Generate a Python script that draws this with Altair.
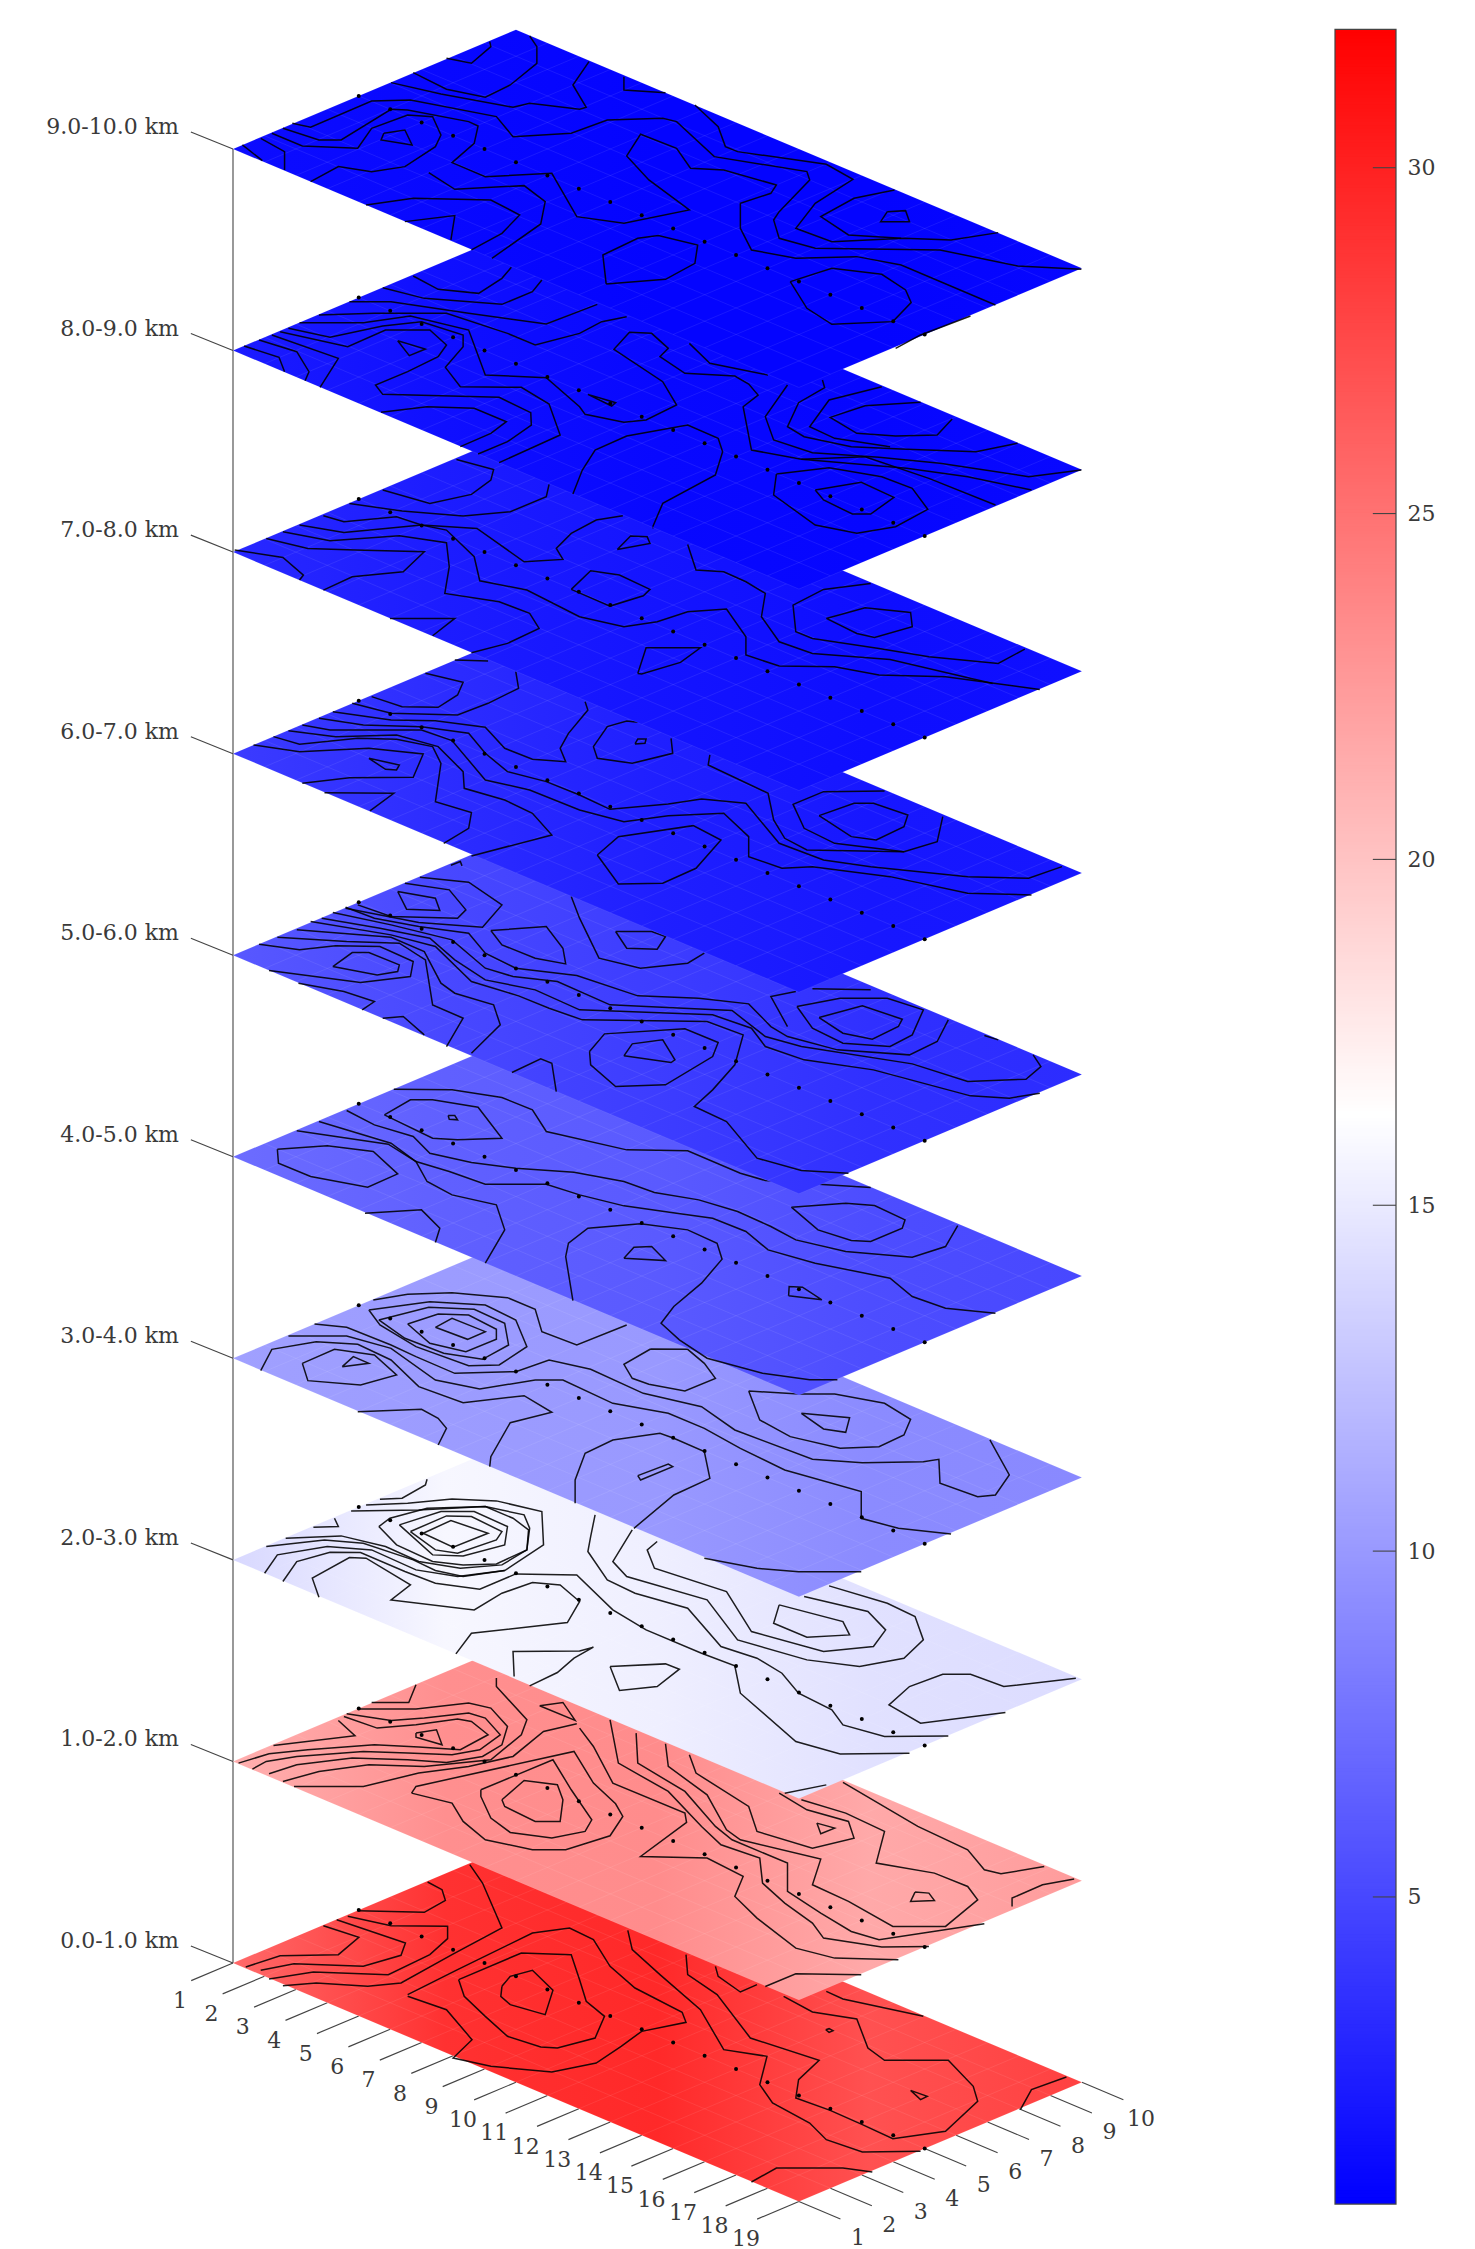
import altair as alt
import pandas as pd

alt.data_transformers.disable_max_rows()

LEVEL_LABELS = ["0.0-1.0 km", "1.0-2.0 km", "2.0-3.0 km", "3.0-4.0 km", "4.0-5.0 km",
                "5.0-6.0 km", "6.0-7.0 km", "7.0-8.0 km", "8.0-9.0 km", "9.0-10.0 km"]
I_TICKS = list(range(1, 20))
J_TICKS = list(range(1, 11))
STATION_ROW = 5
BAR_TICKS = [5, 10, 15, 20, 25, 30]
VMIN, VMAX = 0.56, 32.0

# estimated field level across each layer (left corner -> right corner)
LAYER_VALUES = [
    [25.5, 29.0, 29.5, 27.0, 28.0],
    [21.2, 23.2, 23.4, 21.6, 22.4],
    [13.9, 15.8, 15.3, 14.4, 14.1],
    [10.4, 10.2, 10.0, 9.1, 9.0],
    [7.2, 6.5, 6.1, 5.3, 5.0],
    [6.0, 5.0, 4.3, 3.5, 3.3],
    [4.2, 3.3, 2.5, 2.0, 1.9],
    [3.0, 2.3, 1.8, 1.4, 1.5],
    [2.2, 1.5, 1.05, 0.95, 1.05],
    [1.3, 1.05, 0.8, 0.8, 0.95],
]

# reading origin of each traced layer (row of its left corner in the trace)
ORIGINS = [370, 335, 330, 325, 320.7, 316, 311, 306, 301.5, 387]

# contour traces, one list per layer, each contour a flat run of x,y readings
C0 = [
 [240,213,360,218,398,182,392,150,366,127],
 [178,258,242,293,205,345,100,348,38,382],
 [202,240,326,310,318,347,250,380,125,372,65,392],
 [222,230,300,258,402,260,402,297,370,345,295,405,160,397,80,418],
 [442,75,465,130,500,265,410,345,318,430,258,440,165,430,105,438],
 [330,465,420,390,555,280,622,265,665,300,695,380,740,445,825,518,832,548,752,575,715,620,670,670,590,697,480,680,412,655,446,600,400,510,330,470],
 [422,420,535,340,625,345,640,420,652,485,685,530,668,595,600,625,570,622,510,590,470,530,432,470,422,420],
 [500,440,515,410,555,392,592,452,578,525,515,495,498,470,500,440],
 [727,272,735,330,785,405,858,510,900,630,978,650,965,735,988,790,1055,850,1085,900,1150,937,1255,935],
 [832,345,835,405,888,465,948,595,1072,662,1035,720,1030,775,1092,812,1150,855,1205,897,1300,875,1358,785,1350,740,1305,662,1190,662,1160,625,1140,538,1060,517,1008,470],
 [885,380,890,410,930,457,960,435],
 [1085,455,1115,478,1260,530],
 [1084,570,1090,567,1097,573,1090,578,1084,570],
 [1237,752,1267,770,1255,780,1237,752],
 [950,1027,995,985,1115,985,1168,997],
 [1435,810,1455,750,1518,712],
]
C1 = [
 [345,105,332,158,265,158],
 [345,250,382,240,392,285,345,262,345,250],
 [205,212,235,258,88,287],
 [215,200,275,235,345,225,420,208,445,215,475,255,425,300,350,292,270,285,150,300,80,312,25,340],
 [220,192,300,212,360,205,440,190,470,205,497,255,460,300,410,315,330,310,250,305,130,320,75,335,50,358],
 [240,178,345,178,440,160,480,175,510,230,500,285,465,320,400,338,330,330,230,325,130,345,80,372],
 [490,85,490,110,545,210,535,255,480,330,360,350,260,345,170,365,105,395],
 [635,222,575,245,520,320,440,350,350,370,250,410,125,410],
 [568,168,610,158,632,212,568,168],
 [337,430,345,410,630,305,665,400,705,462,718,500,695,558,615,600,555,600,470,570,430,515,410,460,337,430],
 [462,420,592,330,625,420,662,510,650,545,590,565,515,548,480,505,462,440,462,420],
 [500,450,540,392,600,405,610,450,605,515,560,515,505,470,500,450],
 [640,235,665,290,700,400,830,490,833,518,750,620,870,625,935,680,920,740,960,805,1030,895,1100,925,1215,930],
 [695,210,710,340,800,425,860,530,895,585,965,625,970,700,1010,760,1060,820,1080,865,1185,892,1270,890],
 [742,250,745,340,830,425,885,530,915,570,1015,640,1015,725,1075,790,1130,845,1180,870,1370,822],
 [795,282,800,350,870,435,905,540,930,570,1075,628,1060,705,1125,755,1205,830,1300,830,1358,750,1340,710,1280,670,1175,640,1190,545,1120,490,1040,450],
 [838,315,850,370,945,470,960,545,1060,595,1135,565,1125,515,1050,480,1000,430],
 [1115,398,1250,530,1340,600,1370,660,1400,672,1478,650],
 [1068,520,1100,535,1075,552,1068,520],
 [1245,727,1270,730,1280,752,1237,755,1245,727],
 [1420,770,1420,745,1475,705,1532,688],
 [975,1010,1030,972,1148,975],
]
C2 = [
 [365,88,362,105,320,145,280,148],
 [198,205,205,230,160,232],
 [358,250,408,212,475,250,412,292,358,250],
 [335,245,400,198,445,200,500,245,490,270,420,310,380,300,335,245],
 [315,225,390,185,450,185,510,230,505,285,430,318,375,315,315,225],
 [278,230,298,205,365,175,470,170,520,205,548,240,545,300,490,342,430,345,375,335,310,285,278,230],
 [110,265,210,258,290,290,350,335,425,355,500,345,545,300,550,235,540,195,470,170,350,180,228,183],
 [75,290,180,270,250,280,340,330,380,362,430,380,505,362,575,285,572,185,490,153,410,147,330,160,255,165],
 [72,370,95,315,185,290,265,300,345,360,420,380,505,362],
 [170,442,158,385,225,323,255,325,335,405,300,450,450,480,500,430,555,398,605,405,640,455,618,518,445,550,417,612],
 [105,395,130,335,190,307,245,308,325,365,380,400,460,418,525,372,635,375,700,480,760,540,860,610,920,648,930,730,1030,875,1110,912,1235,910],
 [668,195,660,260,655,305,690,390,740,430,835,475,895,590,960,625,1005,670,1035,730,1095,780,1115,825,1190,860,1305,858],
 [735,240,700,335,725,380,870,450,925,570,1050,630,1145,650,1225,625,1260,570,1245,500,1195,460,1090,408],
 [780,275,762,300,775,355,905,425,950,545,1080,605,1170,590,1192,540,1160,485,1045,440],
 [1000,465,1115,515,1127,555,1050,562,990,520,1000,465],
 [522,680,520,605,640,603,665,592,630,625,600,668,550,708],
 [695,650,795,642,820,658,780,710,712,722,695,650],
 [1535,685,1405,710,1345,673,1295,673,1235,710,1198,765,1255,820,1408,788],
 [1010,1030,1085,1005],
]
C3 = [
 [268,150,330,133,410,128,510,143,560,178,572,245,635,285,725,225],
 [162,222,220,232,300,285,345,320,415,370,525,365,585,330,660,358,755,430,860,470,920,540,1060,628,1150,638,1260,635,1288,628,1290,700,1358,740,1390,735,1415,675,1380,570],
 [115,258,220,258,300,295,380,390,460,417,560,390,610,390,700,460,800,490,865,535,930,595,1010,660,1148,725,1148,805,1215,835,1310,852],
 [65,362,85,298,165,275,240,283,300,330,350,410,430,458,540,437,590,487,515,518,480,620,478,650],
 [140,340,198,298,270,315,310,375,245,405,150,392,140,340],
 [212,350,232,320,260,340,212,350],
 [240,485,355,478,385,505,400,535,385,585],
 [260,180,370,155,470,165,525,210,545,290,495,345,440,347,345,290,280,225,260,180],
 [278,210,368,172,450,178,505,220,512,285,465,328,395,310,325,265,278,210],
 [330,222,385,192,440,195,490,238,490,268,435,305,370,280,330,222],
 [380,232,410,205,470,245,438,268,380,232],
 [945,423,1035,432,1100,432,1190,460,1237,508,1225,555,1180,590,1110,595,1020,560,965,510,945,423],
 [1040,490,1127,503,1120,547,1080,537,1040,490],
 [768,297,835,298,865,340,885,385,830,423,765,403,735,385,720,343,768,297],
 [632,760,632,690,650,610,700,570,785,550,810,565,865,605,875,685,810,735,738,835],
 [745,677,800,642,808,650,750,690,745,677],
 [865,925,960,955,1035,965,1148,965],
]
C4 = [
 [305,118,410,120,500,143,555,180,580,245,725,300,835,303,930,370,975,392,1085,405,1165,413],
 [220,182,270,225,340,260,370,310,445,338,525,355,630,367,720,395,775,428,855,450,925,485,985,530,1030,570,1120,605,1240,622,1300,590,1322,527],
 [170,215,300,280,345,335,405,365,470,403,580,403,640,435,720,468,815,490,880,505,940,545,980,600,1065,640,1200,685,1240,740,1300,775,1390,790],
 [130,243,295,283,345,335,365,395,410,435,490,465,505,540,470,640],
 [95,298,185,288,268,305,312,372,258,412,155,380,97,340,95,298],
 [253,490,355,480,388,535,380,578],
 [288,195,335,150,375,150,457,172,500,265,420,270,375,265,288,195],
 [403,197,415,197,420,210,405,208,403,197],
 [1022,472,1120,460,1172,467,1227,510,1222,535,1165,575,1130,572,1070,540,1022,472],
 [628,752,615,620,620,580,655,535,750,522,835,540,888,580,897,628,860,700,810,770,787,820,820,870,870,925,970,970,1055,990,1105,990],
 [720,625,738,592,770,590,795,632,720,625],
 [1017,738,1018,710,1042,712,1077,750,1017,738],
]
C5 = [
 [408,46,425,35,428,48],
 [325,100,405,120,435,180,420,205,300,200,240,165],
 [312,125,380,145,388,182,328,178,312,125],
 [352,82,440,97,500,165,465,232,350,218,218,175],
 [218,172,270,205,350,230,440,250,470,310,525,355,635,377,745,438,855,445,945,462,985,530,1015,560,1105,600,1235,615,1285,575,1305,510],
 [195,188,300,225,410,270,470,355,520,380,600,395,695,465,760,470,915,482,975,560,1040,590,1240,642,1340,695,1445,688,1472,650,1458,615],
 [175,205,280,235,370,265,415,330,470,390,560,420,640,480,880,495,950,535,975,590,1045,630,1170,660,1345,738,1415,745,1470,730],
 [155,215,300,255,380,290,445,395,530,438,585,475,645,510,870,515,935,555,920,645,880,720,847,770,905,815,960,925,1040,962,1125,970],
 [130,240,300,262,360,305,390,400,415,430,485,465,497,525,445,610],
 [95,262,220,275,315,280,362,330,375,465,430,505,400,590],
 [62,283,135,300,200,288,280,290,340,335,335,380,245,398,80,362],
 [195,350,230,308,260,308,315,345,312,365,275,375,195,350],
 [133,400,215,425,270,455,248,480],
 [285,505,322,500,360,555],
 [480,242,580,230,610,295,615,342,560,325,500,285,480,242],
 [625,140,640,205,675,325,750,355,835,340,865,310],
 [705,245,770,245,795,260,780,298,725,295,705,245],
 [658,605,685,552,830,537,890,578,880,620,795,705,705,710,660,645,658,605],
 [720,618,735,582,790,570,812,630,805,638,720,618],
 [518,668,570,627,590,640,598,725],
 [1032,470,1110,445,1195,445,1260,480,1240,555,1200,590,1115,580,1060,535,1032,470],
 [1072,503,1150,468,1222,508,1215,530,1168,568,1115,550,1072,503],
 [1060,417,1165,420],
 [1030,425,985,440,1015,530],
 [1370,557,1395,570],
 [1010,250,1020,275,1100,318,1098,300,1010,250],
]
C6 = [
 [415,30,475,33],
 [362,70,430,97,420,135,385,172,320,170,265,140],
 [525,65,530,115,475,160,420,195,300,190,230,160],
 [195,185,300,210,380,212,470,232,505,295,555,328,615,335,605,295,620,250,655,180,650,155],
 [170,205,250,225,355,230,440,250,470,310,510,365,580,395,640,435,695,478,800,462,860,447,940,460,980,540,1000,580,1080,630,1165,650,1340,680,1450,685,1510,650],
 [140,225,190,240,355,240,410,272,470,390,550,420,640,480,720,515,800,497,900,490,945,560,945,620,1005,655,1060,650,1200,680,1340,730,1455,735],
 [115,242,200,260,310,255,385,290,430,365,432,415,505,450,555,490,590,555,445,618],
 [88,260,135,283,240,265,310,268,375,290,390,340,380,455,445,488,440,535,395,580],
 [52,285,135,305,260,295,358,312,340,382,225,383,140,400],
 [260,325,315,345,310,360,290,358,260,325],
 [180,428,305,430,262,483],
 [875,315,872,345,980,430,990,510,1010,565,1050,600,1225,605,1285,575,1295,500],
 [672,615,710,560,845,527,895,570,850,655,790,700,710,702,672,615],
 [745,217,725,213,690,230,665,290,672,325,735,340,808,310,805,265],
 [740,282,745,267,760,267,758,280,740,282],
 [1190,423,1080,425,1025,463,1045,535,1100,580,1225,605],
 [1072,497,1135,460,1170,460,1232,495,1225,530,1175,570,1130,560,1072,497],
 [1018,255,1048,275],
]
C7 = [
 [418,28,485,58,480,90,445,133,370,160,285,120],
 [585,103,580,140,515,185,430,198,320,183,225,160],
 [630,130,640,65,665,0],
 [178,197,215,215,310,200,355,225,455,235,540,335,610,328,598,295,625,250,670,210,718,197],
 [135,225,215,247,290,235,355,225,400,240,450,320,460,392,545,420,640,500,720,530,780,515,835,485,905,477,940,560,940,615,1000,648,1100,650,1180,675,1300,680,1470,718],
 [105,245,190,272,315,257,400,278,405,350,397,430,495,455,550,490,567,535,510,580,445,608],
 [75,265,150,295,235,300,360,305,322,365,230,380,178,420],
 [18,300,105,322,142,375,135,390],
 [298,505,415,505,375,557],
 [625,418,660,362,712,375,767,418,755,437,695,468,625,418],
 [708,298,732,258,762,260,767,280,708,298],
 [835,283,850,360,900,365,940,395,975,430,968,500,1000,575,1060,610,1200,628,1385,700],
 [772,235,785,160,835,110,885,75,890,20],
 [745,670,760,593,858,593,822,637,752,672,745,670],
 [1165,400,1080,418,1025,465,1030,545,1060,565,1180,595,1270,620,1395,640,1443,597],
 [1085,505,1155,473,1237,487,1240,530,1172,562,1140,550,1085,505],
]
C8 = [
 [340,78,385,118,458,130,500,85,517,52],
 [285,113,360,145,500,163,555,125,572,90],
 [225,155,300,155,440,190,580,222,672,163],
 [170,195,270,190,400,190,510,250,560,285,640,250,680,215,725,200],
 [135,218,250,218,335,198,440,240,470,375,580,383,640,470,650,493,720,517,760,510,815,465,790,395,702,298,730,247,770,250,800,295,785,320,830,370,920,378,945,402,962,435,935,470,950,600,1040,628,1155,620,1270,685,1390,765],
 [115,235,190,262,285,228,355,215,430,255,430,290,398,352,425,410,535,412,585,462,605,555,495,638],
 [100,245,222,290,290,240,370,240,400,285,385,320,330,365,272,405,285,433,495,442,552,488,553,525,510,575,457,612],
 [85,255,205,325,172,412],
 [62,270,130,305,152,365,145,392],
 [35,288,98,322,108,365],
 [312,272,362,297,333,317,312,272],
 [282,487,365,470,450,475,508,515,480,550,425,590],
 [628,732,645,660,668,600,725,558,835,525,890,565,898,605,885,675,790,760,772,830],
 [655,433,705,458,698,468,655,433],
 [838,280,875,340,980,375],
 [1015,405,975,500,990,570,1060,608,1180,622,1290,640,1450,680,1545,660],
 [1078,390,1082,413,1035,458,1015,530,1045,560,1130,590,1230,598,1355,605,1430,580],
 [1185,410,1090,450,1055,530,1100,565,1200,590],
 [1255,457,1155,467,1092,502,1140,550,1210,558,1285,555,1312,507],
 [1040,628,1230,655,1340,680,1455,720],
 [995,672,1090,653,1185,680,1240,715,1268,778,1210,830,1140,850,1065,825,990,735,995,672],
 [1065,720,1148,697,1207,742,1165,792,1132,792,1080,750,1065,720],
]
C9 = [
 [400,115,445,130,480,80,478,65],
 [340,158,400,208,470,232,515,195,563,130,563,80,550,48],
 [300,188,390,222,520,262,550,250,640,268,652,262,628,195,657,125],
 [720,170,720,210,795,218],
 [848,255,890,320,903,380,925,395,1085,433,1133,478,1065,550,1030,625,1095,665,1225,655,1310,660,1395,638],
 [122,310,155,322,265,243,335,240,490,290,520,350,625,340,690,300,790,295,815,305,883,410,1050,455,1055,480,1000,575,990,600,1000,655,1065,685,1290,690,1430,738,1545,748],
 [105,325,170,360,210,360,300,268,330,270,440,305,457,318,450,370,410,428,470,470,590,460,635,590,720,610,838,570,765,480,725,408,750,343,815,385,840,445,900,450,995,495,985,520,930,550,930,625,950,690,1030,715,1140,710,1220,735,1390,855],
 [85,340,140,378,240,385,265,325,330,285,375,290,390,345,380,380,325,440,265,455,205,440,155,485],
 [65,355,108,395,108,450],
 [32,375,68,422],
 [255,555,340,535,480,540,532,585,500,640,445,690],
 [325,605,415,587,408,660],
 [368,458,415,508,540,497,578,545,570,612,482,715],
 [287,340,325,330,338,375,282,360,287,340],
 [688,792,682,705,745,655,782,647,853,675,848,730,795,778,688,792],
 [1208,510,1135,535,1075,590,1125,645,1220,655],
 [1195,575,1228,572,1235,605,1183,605,1195,575],
 [1020,785,1095,745,1185,763,1228,810,1238,848,1205,905,1095,913,1050,865,1020,785],
 [1210,985,1255,945,1345,888],
]
CONTOURS = [C0, C1, C2, C3, C4, C5, C6, C7, C8, C9]


def to_grid(a, b, level):
    u = (a - 15) / 56.7
    v = (b - ORIGINS[level]) / 39.75
    return 1 + (u + v) / 2, 1 + (u - v) / 2


def project(i, j, level):
    return 233 + 31.44 * (i + j - 2), 1963 - 201.56 * level + 13.25 * (i - j)


def colour(v):
    mid = (VMIN + VMAX) / 2
    if v <= mid:
        c = round(255 * (v - VMIN) / (mid - VMIN))
        return f"#{c:02x}{c:02x}ff"
    c = round(255 * (VMAX - v) / (VMAX - mid))
    return f"#ff{c:02x}{c:02x}"


# ---------- tables ----------
W, H = 1300, 2233
XS = alt.Scale(domain=[8, 8 + W])
YS = alt.Scale(domain=[8 + H, 8])
X = alt.X("x:Q", scale=XS, axis=None)
Y = alt.Y("y:Q", scale=YS, axis=None)


def pt(i, j, level):
    x, y = project(i, j, level)
    return {"x": x, "y": y}


def plane_table(level):
    rows = []
    for top, bottom in [((1, 1), (1, 1)), ((1, 10), (10, 1)), ((10, 10), (19, 1)), ((19, 10), (19, 10))]:
        xa, ya = project(*top, level)
        _, yb = project(*bottom, level)
        rows.append({"x": xa, "y": ya, "y2": yb})
    return pd.DataFrame(rows)


def mesh_table(level):
    rows = []
    n = 0
    for i in I_TICKS:
        for j in (1, 10):
            rows.append({**pt(i, j, level), "id": n, "n": j})
        n += 1
    for j in J_TICKS:
        for i in (1, 19):
            rows.append({**pt(i, j, level), "id": n, "n": i})
        n += 1
    return pd.DataFrame(rows)


def contour_table(level):
    rows = []
    for c, flat in enumerate(CONTOURS[level]):
        for n in range(0, len(flat), 2):
            i, j = to_grid(flat[n], flat[n + 1], level)
            rows.append({**pt(i, j, level), "id": c, "n": n})
    return pd.DataFrame(rows)


def dot_table(level):
    return pd.DataFrame([pt(i, STATION_ROW, level) for i in I_TICKS])


layers = []

# axes
AXIS = "#444444"
TXT = "#3a3a3a"
FONT = "DejaVu Serif"
spine = pd.DataFrame([pt(1, 1, 0), pt(1, 1, 9)])
layers.append(alt.Chart(spine).mark_line(color=AXIS, strokeWidth=1.1).encode(x=X, y=Y))

tick_rows = []
n = 0
for i in I_TICKS:
    for j in (1, -0.33):
        tick_rows.append({**pt(i, j, 0), "id": n, "n": j})
    n += 1
for j in J_TICKS:
    for i in (19, 20.32):
        tick_rows.append({**pt(i, j, 0), "id": n, "n": i})
    n += 1
for k in range(10):
    tick_rows.append({**pt(1, 1, k), "id": n, "n": 0})
    tick_rows.append({**pt(-0.31, 0.97, k), "id": n, "n": 1})
    n += 1
layers.append(alt.Chart(pd.DataFrame(tick_rows)).mark_line(color=AXIS, strokeWidth=1.1).encode(
    x=X, y=Y, detail="id:N", order="n:Q"))

for k in range(10):
    stops = [alt.GradientStop(color=colour(v), offset=o / 4) for o, v in enumerate(LAYER_VALUES[k])]
    layers.append(alt.Chart(plane_table(k)).mark_area(
        color=alt.Gradient(gradient="linear", stops=stops, x1=0, x2=1, y1=0, y2=0),
        interpolate="linear").encode(x=X, y=Y, y2="y2:Q"))
    layers.append(alt.Chart(mesh_table(k)).mark_line(color="white", opacity=0.08, strokeWidth=1).encode(
        x=X, y=Y, detail="id:N", order="n:Q"))
    layers.append(alt.Chart(contour_table(k)).mark_line(color="black", opacity=0.88, strokeWidth=1.5).encode(
        x=X, y=Y, detail="id:N", order="n:Q"))
    layers.append(alt.Chart(dot_table(k)).mark_circle(color="black", opacity=1, size=16).encode(x=X, y=Y))

# labels
lab = [{**pt(-0.69, 0.97, k), "t": s} for k, s in enumerate(LEVEL_LABELS)]
layers.append(alt.Chart(pd.DataFrame(lab)).mark_text(
    font=FONT, fontSize=22, align="right", baseline="middle", color=TXT).encode(x=X, y=Y, text="t:N"))
num = [{**pt(i + 0.59, -1.277, 0), "t": str(i)} for i in I_TICKS]
num += [{**pt(21.334, j - 0.457, 0), "t": str(j)} for j in J_TICKS]
layers.append(alt.Chart(pd.DataFrame(num)).mark_text(
    font=FONT, fontSize=22, align="center", baseline="middle", color=TXT).encode(x=X, y=Y, text="t:N"))

main = alt.layer(*layers).properties(width=W, height=H)

# ---------- colour bar ----------
BW = 61
YB = alt.Y("v:Q", scale=alt.Scale(domain=[0.026, 32.309]),
           axis=alt.Axis(values=BAR_TICKS, orient="right", ticks=False, domain=False, grid=False, title=None,
                         labelFont=FONT, labelFontSize=22, labelColor=TXT, labelPadding=11))
XB = alt.X("a:Q", scale=alt.Scale(domain=[0, 1]), axis=None)
STEP = 0.05
vals = [VMIN + STEP * n for n in range(int((VMAX - VMIN) / STEP) + 1)]
bar_df = pd.DataFrame({"v": vals, "v2": [min(v + STEP * 1.3, VMAX) for v in vals], "a": 0, "b": 1})
color_scale = alt.Scale(domain=[VMIN, (VMIN + VMAX) / 2, VMAX], range=["#0000ff", "#ffffff", "#ff0000"],
                        interpolate="rgb")
bar = alt.Chart(bar_df).mark_rect(strokeWidth=0).encode(
    x=XB, x2="b:Q", y=YB, y2="v2:Q",
    color=alt.Color("v:Q", scale=color_scale, legend=None))
frame = alt.Chart(pd.DataFrame({"v": [VMIN], "v2": [VMAX], "a": [0], "b": [1]})).mark_rect(
    fillOpacity=0, stroke=AXIS, strokeWidth=1.2).encode(x=XB, x2="b:Q", y=YB, y2="v2:Q")
ticks = alt.Chart(pd.DataFrame({"v": BAR_TICKS, "a": 0.62, "b": 1})).mark_rule(color=AXIS, strokeWidth=1.1).encode(
    x=XB, x2="b:Q", y=YB)
side = alt.layer(bar, frame, ticks).properties(width=BW, height=H)

chart = alt.hconcat(main, side, spacing=26).properties(padding=0).configure_view(stroke=None)
chart.save("out.html", embed_options={"renderer": "svg", "actions": False})
